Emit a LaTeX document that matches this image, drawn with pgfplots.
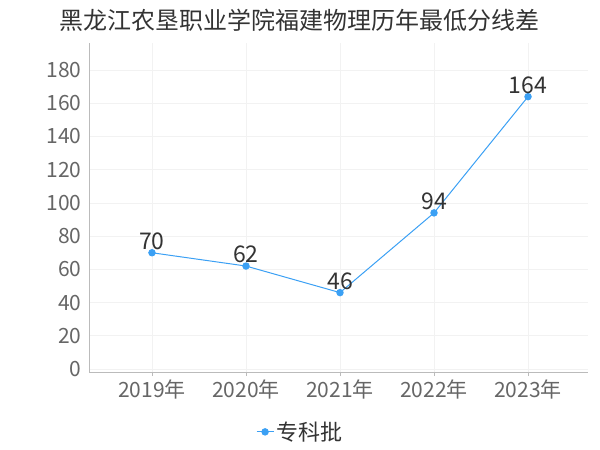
\documentclass[border=0pt]{standalone}
\usepackage{fontspec}
\setmainfont{Noto Sans CJK SC}
\usepackage{pgfplots}
\pgfplotsset{compat=1.18}
\definecolor{lineblue}{HTML}{3BA0F4}
\definecolor{tickgray}{HTML}{666666}
\definecolor{textdark}{HTML}{333333}
\definecolor{gridgray}{HTML}{F2F2F2}
\definecolor{axisgray}{HTML}{BBBBBB}
\begin{document}
\begin{tikzpicture}
\path[use as bounding box] (0,0) rectangle (600bp,450bp);
\node[font=\fontsize{24bp}{27bp}\selectfont, text=textdark] at (299bp,430bp) {黑龙江农垦职业学院福建物理历年最低分线差};
\begin{axis}[
    scale only axis,
    at={(89bp,78bp)}, anchor=south west,
    width=499bp, height=329bp,
    xmin=-0.67, xmax=4.638,
    ymin=-1.8, ymax=196.3,
    axis x line=bottom, axis y line=left,
    axis line style={axisgray, -},
    xtick=data,
    xticklabels={2019年,2020年,2021年,2022年,2023年},
    ytick={0,20,...,180},
    /pgf/number format/assume math mode=true,
    ticklabel style={font=\fontsize{21bp}{24bp}\selectfont, text=tickgray},
    x tick style={axisgray}, y tick style={draw=none},
    major tick length=4bp,
    tick align=outside,
    grid=major,
    major grid style={gridgray, line width=0.6bp},
    legend style={at={(0.423,-0.182)}, anchor=center, draw=none, fill=none,
        font=\fontsize{22bp}{25bp}\selectfont, text=textdark},
]
\addplot[color=lineblue, line width=1bp, mark=*, mark size=3.2bp,
    mark options={fill=lineblue, draw=lineblue},
    nodes near coords,
    every node near coord/.append style={font=\fontsize{23bp}{26bp}\selectfont, text=textdark, anchor=south, yshift=-1bp}]
    coordinates {(0,70) (1,62) (2,46) (3,94) (4,164)};
\addlegendentry{专科批}
\end{axis}
\end{tikzpicture}
\end{document}
